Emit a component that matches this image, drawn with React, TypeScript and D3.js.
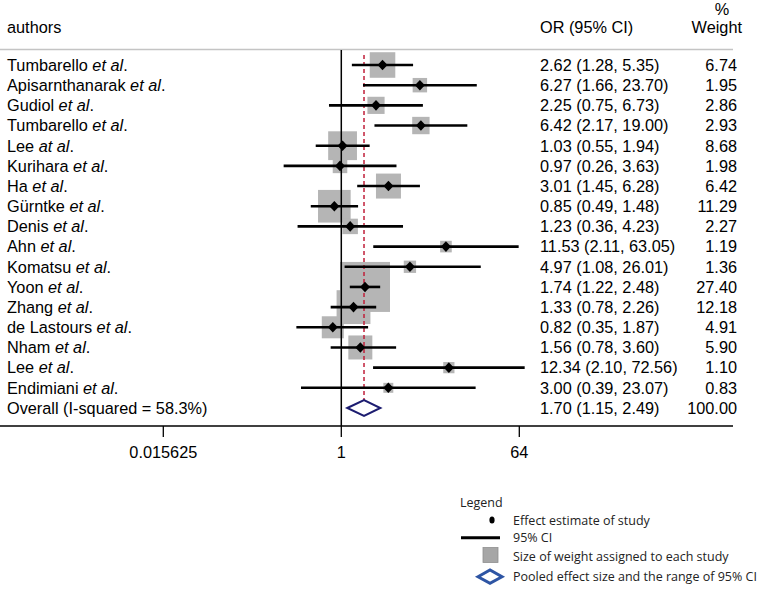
import React from "react";
import * as d3 from "d3";

const authors = ["Tumbarello", "Apisarnthanarak", "Gudiol", "Tumbarello", "Lee", "Kurihara", "Ha", "Gürntke", "Denis", "Ahn", "Komatsu", "Yoon", "Zhang", "de Lastours", "Nham", "Lee", "Endimiani"];
const suffixes = ["et al", "et al", "et al", "et al", "at al", "et al", "et al", "et al", "et al", "et al", "et al", "et al", "et al", "et al", "et al", "et al", "et al"];
const orValues = [2.62, 6.27, 2.25, 6.42, 1.03, 0.97, 3.01, 0.85, 1.23, 11.53, 4.97, 1.74, 1.33, 0.82, 1.56, 12.34, 3.0];
const ciLower = [1.28, 1.66, 0.75, 2.17, 0.55, 0.26, 1.45, 0.49, 0.36, 2.11, 1.08, 1.22, 0.78, 0.35, 0.78, 2.1, 0.39];
const ciUpper = [5.35, 23.7, 6.73, 19.0, 1.94, 3.63, 6.28, 1.48, 4.23, 63.05, 26.01, 2.48, 2.26, 1.87, 3.6, 72.56, 23.07];
const weights = [6.74, 1.95, 2.86, 2.93, 8.68, 1.98, 6.42, 11.29, 2.27, 1.19, 1.36, 27.4, 12.18, 4.91, 5.9, 1.1, 0.83];
const overall = { or: 1.7, lo: 1.15, hi: 2.49, weight: 100.0, i2: 58.3 };
const axisTicks = [0.015625, 1, 64];
const axisTickLabels = ["0.015625", "1", "64"];
const legendLabels = ["Effect estimate of study", "95% CI", "Size of weight assigned to each study", "Pooled effect size and the range of 95% CI"];

const W = 760;
const H = 589;
const FONT = "'Liberation Sans', Arial, Helvetica, sans-serif";
const LFONT = "'Open Sans', 'Noto Sans', sans-serif";
const FS = 16.3;

export default function App() {
  const x = d3.scaleLog().base(2).domain([0.015625, 64]).range([163.3, 519.3]);
  const rowIdx = d3.range(authors.length + 1);
  const y = d3.scalePoint<number>().domain(rowIdx).range([65, 408]);
  const box = d3.scaleSqrt().domain([0, d3.max(weights) as number]).range([1.5, 50]);
  const fmt = d3.format(".2f");
  const axisY = 426;
  const overallY = y(authors.length) as number;
  const diamondPath = (lo: number, mid: number, hi: number, cy: number, h: number) =>
    `M${x(lo)},${cy} L${x(mid)},${cy - h} L${x(hi)},${cy} L${x(mid)},${cy + h} Z`;

  return (
    <svg width={W} height={H} style={{ position: "absolute", left: 0, top: 0, background: "#fff" }} fontFamily={FONT}>
      <rect x={0} y={0} width={W} height={H} fill="#fff" />
      {/* headers */}
      <text x={7} y={33} fontSize={FS}>authors</text>
      <text x={540} y={33} fontSize={FS}>OR (95% CI)</text>
      <text x={722} y={15} fontSize={FS} textAnchor="middle">%</text>
      <text x={742} y={33} fontSize={FS} textAnchor="end">Weight</text>
      <line x1={0} x2={733} y1={49.5} y2={49.5} stroke="#c4c4c4" strokeWidth={1.5} />

      {/* weight boxes */}
      {weights.map((w, i) => {
        const s = box(w);
        const cy = y(i) as number;
        return <rect key={"b" + i} x={x(orValues[i]) - s / 2} y={cy - s / 2} width={s} height={s} fill="#b5b5b5" />;
      })}

      {/* reference line at 1 */}
      <line x1={x(1)} x2={x(1)} y1={50} y2={axisY} stroke="#000" strokeWidth={1.5} />
      {/* overall dashed line */}
      <line x1={x(overall.or)} x2={x(overall.or)} y1={55} y2={415} stroke="#c0203a" strokeWidth={1.5} strokeDasharray="4,3" />

      {/* CIs and point estimates */}
      {orValues.map((v, i) => {
        const cy = y(i) as number;
        const cx = x(v);
        return (
          <g key={"c" + i}>
            <line x1={x(ciLower[i])} x2={x(ciUpper[i])} y1={cy} y2={cy} stroke="#000" strokeWidth={2.6} />
            <path d={`M${cx - 5},${cy} L${cx},${cy - 5.3} L${cx + 5},${cy} L${cx},${cy + 5.3} Z`} fill="#000" />
          </g>
        );
      })}

      {/* overall diamond */}
      <path d={diamondPath(overall.lo, overall.or, overall.hi, overallY, 8)} fill="#fff" stroke="#1c1c70" strokeWidth={2} />

      {/* labels */}
      {authors.map((a, i) => {
        const cy = y(i) as number;
        return (
          <g key={"t" + i} fontSize={FS}>
            <text x={7} y={cy + 5.8}>
              {a + " "}
              <tspan fontStyle="italic">{suffixes[i]}</tspan>.
            </text>
            <text x={540} y={cy + 5.8}>{`${fmt(orValues[i])} (${fmt(ciLower[i])}, ${fmt(ciUpper[i])})`}</text>
            <text x={737} y={cy + 5.8} textAnchor="end">{fmt(weights[i])}</text>
          </g>
        );
      })}
      <g fontSize={FS}>
        <text x={7} y={overallY + 5.8}>{`Overall (I-squared = ${overall.i2.toFixed(1)}%)`}</text>
        <text x={540} y={overallY + 5.8}>{`${fmt(overall.or)} (${fmt(overall.lo)}, ${fmt(overall.hi)})`}</text>
        <text x={737} y={overallY + 5.8} textAnchor="end">{fmt(overall.weight)}</text>
      </g>

      {/* axis */}
      <line x1={0} x2={733} y1={axisY} y2={axisY} stroke="#000" strokeWidth={1.5} />
      {axisTicks.map((t, i) => (
        <g key={"k" + i}>
          <line x1={x(t)} x2={x(t)} y1={axisY} y2={axisY + 11} stroke="#000" strokeWidth={1.3} />
          <text x={x(t)} y={457.5} fontSize={FS} textAnchor="middle">{axisTickLabels[i]}</text>
        </g>
      ))}

      {/* legend */}
      <g fontFamily={LFONT} fontSize={12.5} fill="#222">
        <text x={460} y={507}>Legend</text>
        <ellipse cx={492} cy={520} rx={2.6} ry={3.6} fill="#000" />
        <text x={513} y={524.5}>{legendLabels[0]}</text>
        <line x1={461} x2={500} y1={537.7} y2={537.7} stroke="#000" strokeWidth={3} />
        <text x={513} y={542}>{legendLabels[1]}</text>
        <rect x={483} y={547.5} width={15} height={15} fill="#a6a6a6" stroke="#909090" strokeWidth={0.8} />
        <text x={513} y={560.5}>{legendLabels[2]}</text>
        <path d="M478,576.7 L490,570 L502,576.7 L490,583.4 Z" fill="#fff" stroke="#2e55a4" strokeWidth={3} />
        <text x={513} y={581}>{legendLabels[3]}</text>
      </g>
    </svg>
  );
}
